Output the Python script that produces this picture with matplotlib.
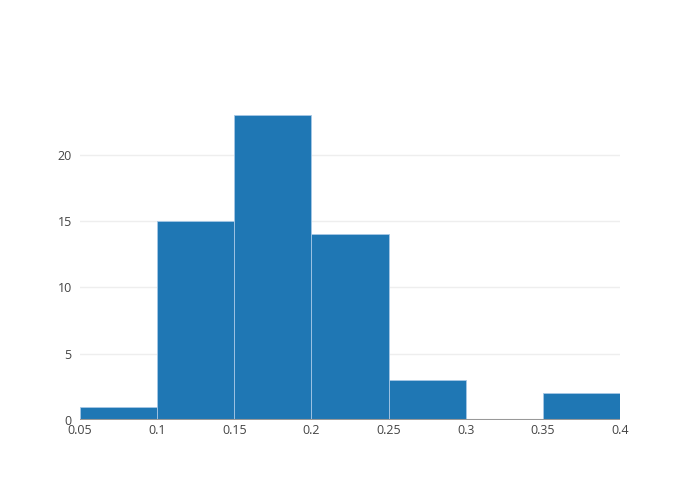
import matplotlib
matplotlib.use("Agg")
from matplotlib import pyplot as plt

# histogram bins (left edges) and counts
bin_edges = [0.05, 0.1, 0.15, 0.2, 0.25, 0.3, 0.35, 0.4]
counts = [1, 15, 23, 14, 3, 0, 2]
x_ticks = [0.05, 0.1, 0.15, 0.2, 0.25, 0.3, 0.35, 0.4]
x_labels = ["0.05", "0.1", "0.15", "0.2", "0.25", "0.3", "0.35", "0.4"]
y_ticks = [0, 5, 10, 15, 20]

plt.rcParams['font.family'] = ['Open Sans', 'DejaVu Sans']

fig = plt.figure(figsize=(7, 5), dpi=100)
ax = fig.add_axes([80/700, 80/500, 540/700, 320/500])

widths = [bin_edges[i+1] - bin_edges[i] for i in range(len(counts))]
ax.bar(bin_edges[:-1], counts, width=widths, align="edge",
       color="#1f77b4", edgecolor="#a6c8e6", linewidth=0.6, zorder=2)

ax.set_xlim(0.05, 0.4)
ax.set_ylim(0, 23 * 1.05)
ax.set_xticks(x_ticks)
ax.set_xticklabels(x_labels)
ax.set_yticks(y_ticks)

ax.grid(axis="y", color="#eeeeee", linewidth=1, zorder=0)
ax.axhline(0, color="#999999", linewidth=1.5, zorder=3)
for s in ax.spines.values():
    s.set_visible(False)
ax.tick_params(length=0, labelsize=9, colors="#444444", pad=3)
ax.tick_params(axis="y", pad=6)

fig.savefig("out.png", dpi=100)
